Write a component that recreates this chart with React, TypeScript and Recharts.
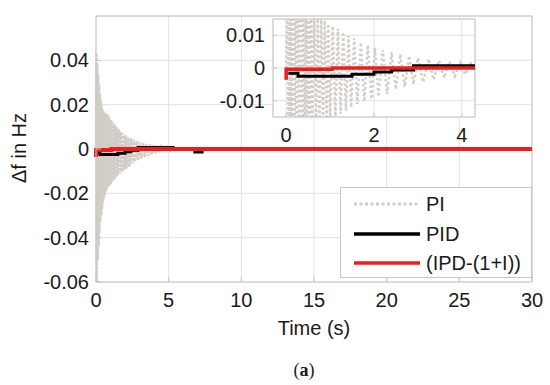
import React from 'react';
import {
  LineChart, Line, XAxis, YAxis, CartesianGrid, ReferenceLine, Label,
} from 'recharts';

const FONT = '"Liberation Sans", Arial, sans-serif';

// PI response (fast decaying oscillation), sampled at its turning points
const piTime = [0, 0.03, 0.06, 0.09, 0.12, 0.15, 0.18, 0.21, 0.24, 0.27, 0.3, 0.33, 0.36, 0.39, 0.42, 0.45, 0.48, 0.51, 0.54, 0.57, 0.6, 0.64, 0.68, 0.72, 0.76, 0.8, 0.84, 0.88, 0.92, 0.96, 1.0, 1.06, 1.12, 1.18, 1.24, 1.3, 1.36, 1.42, 1.48, 1.55, 1.62, 1.7, 1.78, 1.86, 1.94, 2.02, 2.1, 2.2, 2.3, 2.4, 2.5, 2.6, 2.7, 2.8, 2.9, 3.0, 3.12, 3.24, 3.36, 3.48, 3.6, 3.72, 3.84, 3.96, 4.08, 4.2, 4.32, 4.5, 4.7, 4.9, 5.1, 5.3, 5.5, 5.8, 6.1, 6.5];
const piValue = [0, 0.043, -0.06, 0.038, -0.05, 0.034, -0.044, 0.029, -0.038, 0.025, -0.033, 0.022, -0.03, 0.02, -0.027, 0.018, -0.024, 0.017, -0.022, 0.0165, -0.021, 0.016, -0.019, 0.0158, -0.018, 0.0155, -0.017, 0.0145, -0.0165, 0.0135, -0.016, 0.0128, -0.0148, 0.012, -0.014, 0.011, -0.013, 0.0098, -0.012, 0.009, -0.011, 0.0078, -0.0103, 0.007, -0.0095, 0.0062, -0.0088, 0.0055, -0.008, 0.0048, -0.0065, 0.0042, -0.0058, 0.0037, -0.005, 0.0031, -0.0043, 0.0028, -0.0036, 0.0023, -0.003, 0.002, -0.0025, 0.0017, -0.002, 0.0014, -0.0015, 0.0012, -0.0011, 0.0009, -0.0008, 0.0006, -0.0005, 0.0003, -0.0002, 0];

// PID response (steps)
const pidTime = [0.05, 0.27, 0.27, 1.5, 1.5, 2.0, 2.0, 2.4, 2.4, 2.9, 2.9, 5.3, 5.3, 6.8, 6.8, 7.3, 7.3, 30];
const pidValue = [-0.0016, -0.0016, -0.0025, -0.0025, -0.0019, -0.0019, -0.0012, -0.0012, -0.0006, -0.0006, 0.0007, 0.0007, 0, 0, -0.0014, -0.0014, 0, 0];

// (IPD-(1+I)) response
const ipdTime = [0, 0, 1.05, 1.05, 30];
const ipdValue = [-0.0036, -0.0004, -0.0004, 0, 0];

const mainXTicks = [0, 5, 10, 15, 20, 25, 30];
const mainYTicks = [-0.06, -0.04, -0.02, 0, 0.02, 0.04];
const insetXTicks = [0, 2, 4];
const insetYTicks = [-0.01, 0, 0.01];

const toRows = (t: number[], v: number[]) => t.map((x, i) => ({ t: x, v: v[i] }));
const piData = toRows(piTime, piValue);
const pidData = toRows(pidTime, pidValue);
const ipdData = toRows(ipdTime, ipdValue);

const series = [
  { name: 'PI', color: '#d2cec7', dash: '3 2.5', data: piData },
  { name: 'PID', color: '#000000', dash: undefined, data: pidData },
  { name: '(IPD-(1+I))', color: '#ee1c1c', dash: undefined, data: ipdData },
];

const BOX = '#c6c6c6';
const GRID = '#e2e2e2';
const tickStyle = { fontSize: 20, fill: '#1a1a1a', fontFamily: FONT };
const fmt = (v: number) => (v === 0 ? '0' : String(Number(v.toFixed(3))));

const App: React.FC = () => {
  return (
    <div style={{ position: 'absolute', left: 0, top: 0, width: 550, height: 385, background: '#fff', fontFamily: FONT }}>
      <LineChart width={550} height={385} data={piData} margin={{ top: 16, right: 18, left: 36, bottom: 73 }}>
        <CartesianGrid stroke={GRID} />
        <XAxis
          type="number" dataKey="t" domain={[0, 30]} ticks={mainXTicks} height={30}
          tick={tickStyle} tickSize={-5} tickMargin={16} axisLine={{ stroke: BOX }} tickLine={{ stroke: BOX }}
        >
          <Label value="Time (s)" position="bottom" offset={9} style={{ fontSize: 20, fill: '#1a1a1a', fontFamily: FONT }} />
        </XAxis>
        <YAxis
          type="number" domain={[-0.06, 0.06]} ticks={mainYTicks} width={60} tickFormatter={fmt}
          tick={tickStyle} tickSize={-5} tickMargin={12} axisLine={{ stroke: BOX }} tickLine={{ stroke: BOX }}
        >
          <Label
            content={() => (
              <text x={26} y={148} transform="rotate(-90 26 148)" textAnchor="middle" fontSize={20} fill="#1a1a1a" fontFamily={FONT}>
                Δf in Hz
              </text>
            )}
          />
        </YAxis>
        <ReferenceLine y={0.06} stroke={BOX} />
        <ReferenceLine x={30} stroke={BOX} />
        <Line data={piData} dataKey="v" stroke={series[0].color} strokeWidth={2.5} strokeDasharray="3 1" dot={false} activeDot={false} isAnimationActive={false} />
        <Line data={pidData} dataKey="v" stroke={series[1].color} strokeWidth={3} dot={false} activeDot={false} isAnimationActive={false} />
        <Line data={ipdData} dataKey="v" stroke={series[2].color} strokeWidth={4} dot={false} activeDot={false} isAnimationActive={false} />
      </LineChart>

      <div style={{ position: 'absolute', left: 200, top: 0 }}>
        <LineChart width={300} height={160} data={piData} margin={{ top: 19, right: 25, left: 13, bottom: 13 }}>
          <CartesianGrid stroke={GRID} fill="#fff" fillOpacity={1} />
          <XAxis
            type="number" dataKey="t" domain={[-0.3, 4.3]} ticks={insetXTicks} height={30} allowDataOverflow
            tick={tickStyle} tickSize={-4} tickMargin={15} axisLine={{ stroke: BOX }} tickLine={{ stroke: BOX }}
          />
          <YAxis
            type="number" domain={[-0.015, 0.015]} ticks={insetYTicks} width={60} allowDataOverflow tickFormatter={fmt}
            tick={tickStyle} tickSize={-4} tickMargin={12} axisLine={{ stroke: BOX }} tickLine={{ stroke: BOX }}
          />
          <ReferenceLine y={0.015} stroke={BOX} />
          <ReferenceLine x={4.3} stroke={BOX} />
          <Line data={piData} dataKey="v" stroke={series[0].color} strokeWidth={2.5} strokeDasharray="2.5 2.5" dot={false} activeDot={false} isAnimationActive={false} />
          <Line data={pidData} dataKey="v" stroke={series[1].color} strokeWidth={3} dot={false} activeDot={false} isAnimationActive={false} />
          <Line data={ipdData} dataKey="v" stroke={series[2].color} strokeWidth={3.5} dot={false} activeDot={false} isAnimationActive={false} />
        </LineChart>
      </div>

      <div style={{ position: 'absolute', left: 340, top: 187, width: 192, height: 91, background: '#fff', border: `1px solid ${BOX}`, boxSizing: 'border-box' }}>
        {series.map((s, i) => (
          <div key={s.name} style={{ position: 'absolute', left: 0, top: 4 + i * 29.5, height: 24, width: 192, display: 'flex', alignItems: 'center' }}>
            <svg width={66} height={6} style={{ position: 'absolute', left: 13 }}>
              <line x1={0} y1={3} x2={66} y2={3} stroke={s.color} strokeWidth={i === 0 ? 3 : 3.5} strokeDasharray={s.dash} />
            </svg>
            <span style={{ position: 'absolute', left: 85, fontSize: 20, color: '#1a1a1a', lineHeight: '24px' }}>{s.name}</span>
          </div>
        ))}
      </div>

      <div style={{ position: 'absolute', left: 254, top: 359, width: 100, textAlign: 'center', fontFamily: '"Liberation Serif", "DejaVu Serif", serif', fontSize: 18, lineHeight: '22px', color: '#1a1a1a' }}>
        (<b>a</b>)
      </div>
    </div>
  );
};

export default App;
